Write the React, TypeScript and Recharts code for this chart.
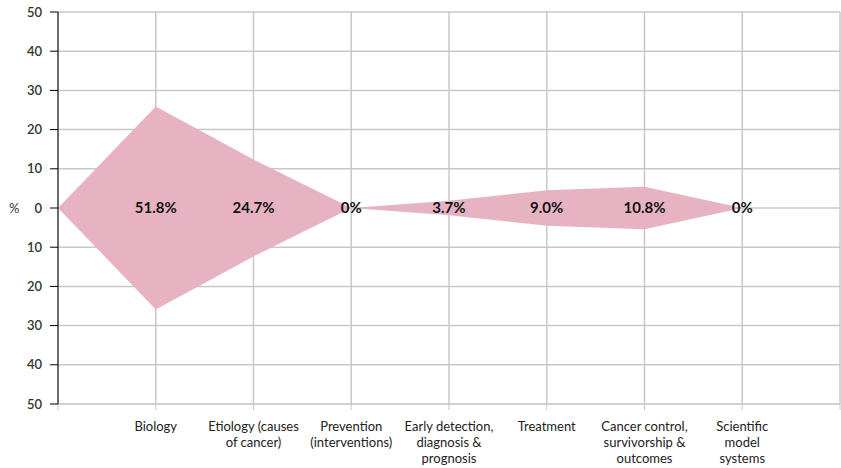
import { Area, CartesianGrid, ComposedChart, LabelList, Line, XAxis, YAxis } from 'recharts';

// x positions 0..8: 0 is the empty start, 1..7 are the research areas, 8 is the empty right edge
const categoryLines: string[][] = [
  [],
  ['Biology'],
  ['Etiology (causes', 'of cancer)'],
  ['Prevention', '(interventions)'],
  ['Early detection,', 'diagnosis &', 'prognosis'],
  ['Treatment'],
  ['Cancer control,', 'survivorship &', 'outcomes'],
  ['Scientific', 'model', 'systems'],
  [],
];
const shares = [0, 51.8, 24.7, 0, 3.7, 9.0, 10.8, 0];
const shareLabels = ['', '51.8%', '24.7%', '0%', '3.7%', '9.0%', '10.8%', '0%'];
const yTicks = [-50, -40, -30, -20, -10, 0, 10, 20, 30, 40, 50];
const xTicks = [0, 1, 2, 3, 4, 5, 6, 7, 8];

const data = shares.map((v, i) => ({
  x: i,
  band: [-v / 2, v / 2],
  mid: 0,
  label: shareLabels[i],
}));

const FONT = 'Lato, "Noto Sans", sans-serif';

function CategoryTick({ x, y, payload }: any) {
  const lines = categoryLines[payload.value] || [];
  return (
    <text x={x} y={y} textAnchor="middle" fill="#222" fontSize={13} fontFamily={FONT}>
      {lines.map((line, i) => (
        <tspan key={i} x={x} dy={i === 0 ? 19 : 16}>
          {line}
        </tspan>
      ))}
    </text>
  );
}

export default function App() {
  return (
    <div style={{ position: 'absolute', left: 0, top: 0, background: '#fff' }}>
      <ComposedChart width={841} height={468} data={data} margin={{ top: 12, right: 1, bottom: 0, left: 0 }}>
        <CartesianGrid stroke="#c8c8c8" strokeWidth={1.5} />
        <XAxis
          dataKey="x"
          type="number"
          domain={[0, 8]}
          ticks={xTicks}
          interval={0}
          height={64}
          stroke="#c8c8c8"
          tickSize={6}
          tickMargin={2}
          tick={<CategoryTick />}
        />
        <YAxis
          type="number"
          domain={[-50, 50]}
          ticks={yTicks}
          interval={0}
          width={58}
          stroke="#000"
          tickSize={8}
          tickMargin={8}
          tickFormatter={(v: number) => String(Math.abs(v))}
          tick={{ fill: '#333', fontSize: 13, fontWeight: 600, fontFamily: FONT }}
          label={{ value: '%', position: 'insideLeft', offset: 9, fill: '#333', fontSize: 13, fontFamily: FONT }}
        />
        <Area
          dataKey="band"
          type="linear"
          fill="#e7b3c3"
          fillOpacity={1}
          stroke="none"
          isAnimationActive={false}
          activeDot={false}
          dot={false}
        />
        <Line dataKey="mid" stroke="none" dot={false} activeDot={false} isAnimationActive={false}>
          <LabelList
            dataKey="label"
            position="center"
            fill="#111"
            fontSize={15}
            fontWeight="bold"
            fontFamily={FONT}
          />
        </Line>
      </ComposedChart>
    </div>
  );
}
